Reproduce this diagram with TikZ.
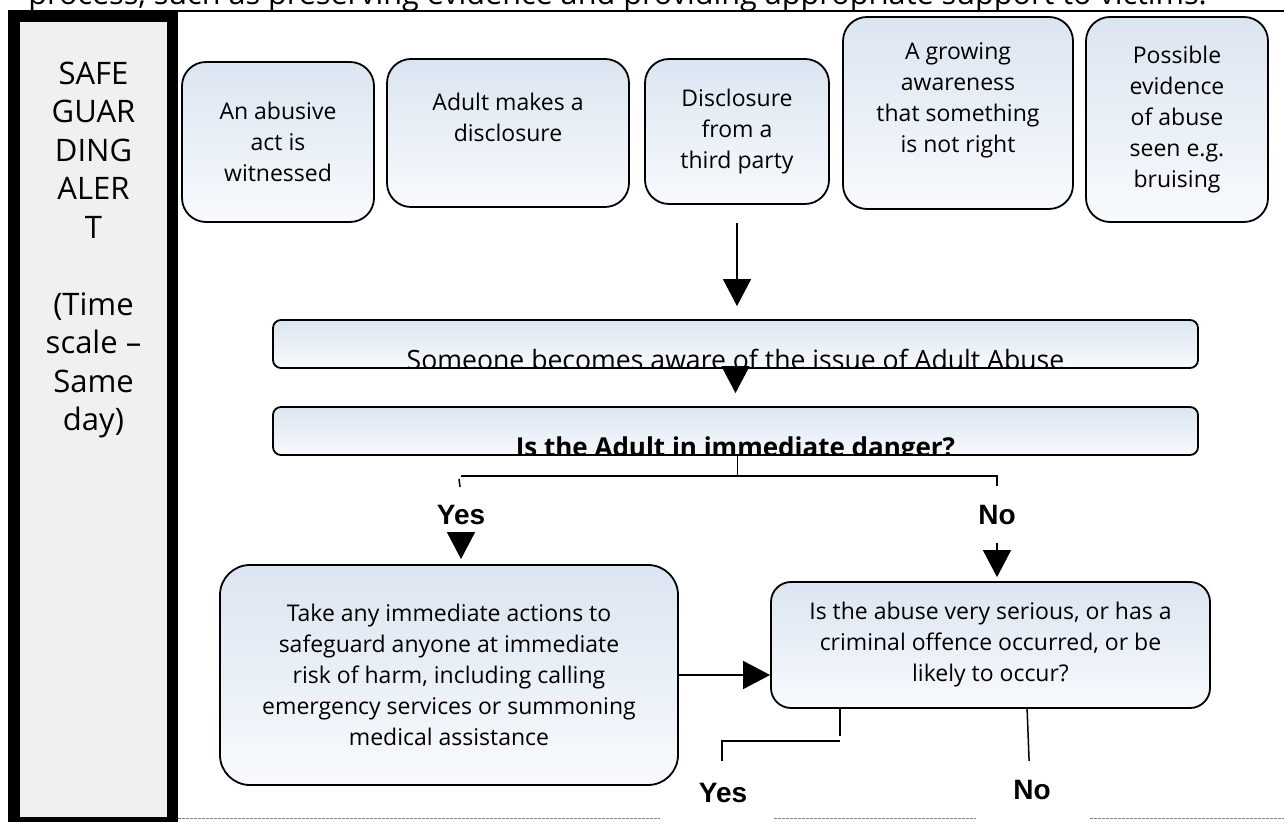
\documentclass[tikz,border=0pt]{standalone}
\usepackage{fontspec}
\setmainfont{Open Sans}
\newfontfamily\yesnofont{Liberation Sans}
\usetikzlibrary{arrows.meta, calc, positioning}

\definecolor{cardtop}{RGB}{219,229,241}
\definecolor{cardbot}{RGB}{248,250,253}
\definecolor{sidegray}{RGB}{240,240,240}

\begin{document}
\begin{tikzpicture}[x=0.5pt, y=-0.5pt,
  card/.style={draw=black, line width=0.9pt, rounded corners=12pt, top color=cardtop, bottom color=cardbot, align=center, inner sep=2pt, font=\fontsize{11.5}{15.5}\selectfont},
  thinbox/.style={card, rounded corners=4pt},
  yesno/.style={font=\yesnofont\bfseries\fontsize{14}{16}\selectfont, inner sep=0pt},
  arr/.style={line width=0.75pt, -{Triangle[length=13.5pt,width=14pt]}},
  link/.style={line width=0.75pt},
  dashline/.style={gray, line width=0.5pt, dash pattern=on 1.5pt off 0.5pt}]
  \useasboundingbox (0,0) rectangle (1284,822);
  \clip (0,0) rectangle (1284,822);

  % heading, cut by the page top
  \node[anchor=base west, inner sep=0pt, font=\fontsize{15.3}{18}\selectfont] (intro) at (28,5) {process, such as preserving evidence and providing appropriate support to victims.};
  \draw[line width=1pt] (8,11) -- (1284,11);

  % side bar
  \fill[black] (8,10) rectangle (178,822);
  \fill[sidegray] (20,22) rectangle (167,817);
  \node[align=center, font=\fontsize{15.5}{19.25}\selectfont] (alert) at (93.5,250) {SAFE\\GUAR\\DING\\ALER\\T\\[19.25pt](Time\\scale –\\Same\\day)};

  % ways of finding out
  \node[card, minimum width=96pt, minimum height=80pt] (act) at (278,142) {An abusive\\act is\\witnessed};
  \node[card, minimum width=121pt, minimum height=74pt] (disclose) at (508,133) {Adult makes a\\disclosure\\\phantom{x}};
  \node[card, minimum width=92pt, minimum height=72.5pt] (third) at (737,131.5) {Disclosure\\from a\\third party};
  \node[card, minimum width=115pt, minimum height=96pt] (sense) at (958,113) {A growing\\awareness\\that something\\is not right\\\phantom{x}};
  \node[card, minimum width=91pt, minimum height=102.5pt] (signs) at (1177,119.5) {Possible\\evidence\\of abuse\\seen e.g.\\bruising};

  % bars
  \node[thinbox, minimum width=462.5pt, minimum height=24pt, path picture={\node[anchor=base, inner sep=0pt, text=black, font=\fontsize{13.3}{15}\selectfont] (issue-t) at ([yshift=-1pt]path picture bounding box.south) {Someone becomes aware of the issue of Adult Abuse};}] (issue) at (735.5,344) {};
  \node[thinbox, minimum width=462.5pt, minimum height=24pt, path picture={\node[anchor=base, inner sep=0pt, text=black, font=\bfseries\fontsize{13}{15}\selectfont] (danger-t) at ([yshift=-1pt]path picture bounding box.south) {Is the Adult in immediate danger?};}] (danger) at (735.5,431) {};

  % choices
  \node[card, rounded corners=15pt, minimum width=229pt, minimum height=110pt] (take) at (449,675) {Take any immediate actions to\\safeguard anyone at immediate\\risk of harm, including calling\\emergency services or summoning\\medical assistance};
  \node[card, rounded corners=10pt, minimum width=219.5pt, minimum height=63pt] (serious) at (990.5,645) {Is the abuse very serious, or has a\\criminal offence occurred, or be\\likely to occur?};

  \node[yesno] (yes1) at (461,515) {Yes};
  \node[yesno] (no1) at (997,515) {No};
  \node[yesno] (yes2) at (723,793) {Yes};
  \node[yesno] (no2) at (1032,790) {No};

  % connectors
  \draw[arr, shorten <=9pt, shorten >=6.5pt] (third.south) -- (third.south |- issue.north);
  \draw[arr, shorten >=6.5pt] (issue.south) -- (issue.south |- danger.north);
  \draw[link] ([xshift=1pt]danger.south) -- ++(0,20) coordinate (fork);
  \draw[link] (fork -| yes1) -- (fork -| no1) -- ++(0,10);
  \draw[link] ($(fork -| yes1)+(-2,3)$) -- ++(1,8);
  \draw[arr, shorten <=4pt, shorten >=2.5pt] (yes1.south) -- (yes1.south |- take.north);
  \draw[arr, shorten <=9pt, shorten >=2pt] (no1.south) -- (no1.south |- serious.north);
  \draw[arr] (take.east) -- (take.east -| serious.west);
  \draw[link] ($(serious.south west)+(70,0)$) -- ++(0,27);
  \draw[link] ($(yes2.north)+(-1,-22)$) |- ++(118,-20);
  \draw[link] ($(serious.south west)+(257,0)$) -- ++(2,52);

  % page rule below
  \draw[dashline] (178,818) -- (660,818);
  \draw[dashline] (774,818) -- (976,818);
  \draw[dashline] (1090,818) -- (1284,818);
\end{tikzpicture}
\end{document}
